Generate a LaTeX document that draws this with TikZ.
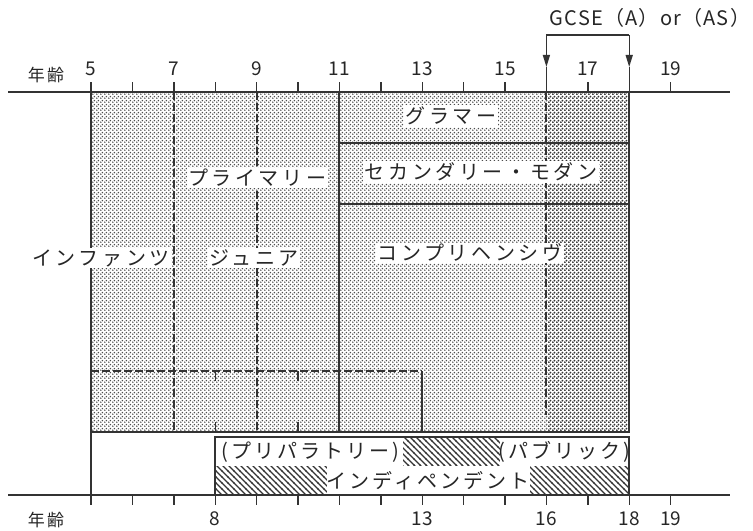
\documentclass[tikz,border=0pt]{standalone}
\usepackage{fontspec}
\setmainfont{Noto Sans CJK JP}
\newfontfamily\jp{Noto Sans CJK JP}[LetterSpace=18]
\newfontfamily\jpb{Noto Sans CJK JP}[LetterSpace=15]
\newfontfamily\jpn{Noto Sans CJK JP}[LetterSpace=14]
\newfontfamily\lat{Noto Sans CJK JP}[LetterSpace=6]
\usetikzlibrary{patterns,arrows.meta}
\pgfdeclarepatternformonly{stip}{\pgfpointorigin}{\pgfpoint{4bp}{4bp}}{\pgfpoint{4bp}{4bp}}{%
  \pgfpathcircle{\pgfpoint{1bp}{1bp}}{1.0bp}%
  \pgfpathcircle{\pgfpoint{3bp}{3bp}}{1.0bp}%
  \pgfusepath{fill}}
\pgfdeclarepatternformonly{stipd}{\pgfpointorigin}{\pgfpoint{4bp}{4bp}}{\pgfpoint{4bp}{4bp}}{%
  \pgfpathcircle{\pgfpoint{1bp}{1bp}}{1.25bp}%
  \pgfpathcircle{\pgfpoint{3bp}{3bp}}{1.25bp}%
  \pgfusepath{fill}}
\pgfdeclarepatternformonly{hatch}{\pgfpoint{-1bp}{-1bp}}{\pgfpoint{7bp}{7bp}}{\pgfpoint{6bp}{6bp}}{%
  \pgfsetlinewidth{1.3bp}%
  \pgfpathmoveto{\pgfpoint{-0.5bp}{6.5bp}}\pgfpathlineto{\pgfpoint{6.5bp}{-0.5bp}}%
  \pgfusepath{stroke}}
\begin{document}
\begin{tikzpicture}[x=1bp,y=-1bp,
  lab/.style={font=\jp\fontsize{20bp}{20bp}\selectfont, fill=white, inner sep=1.5bp, text=black!85},
  blab/.style={font=\jpb\fontsize{20bp}{20bp}\selectfont, inner sep=0pt, text=black!85},
  num/.style={font=\fontsize{19bp}{19bp}\selectfont, inner sep=0pt, text=black!85},
  gc/.style={font=\lat\fontsize{20bp}{20bp}\selectfont, inner sep=0pt, text=black!85},
  age/.style={font=\jpn\fontsize{17bp}{17bp}\selectfont, inner sep=0pt, text=black!85},
  ln/.style={line width=2bp, black!80},
  thin/.style={line width=1.4bp, black!80},
  dsh/.style={line width=1.9bp, dash pattern=on 8bp off 3bp, black!80}]
\useasboundingbox (0,0) rectangle (753,531);
% fills
\fill[pattern=stip, pattern color=black!70] (91,92) rectangle (546.4,432);
\fill[pattern=stipd, pattern color=black!80] (546.4,92) rectangle (629.2,432);
\fill[pattern=hatch, pattern color=black!80] (215.2,437) rectangle (629.2,495);
\fill[white] (216,438) rectangle (403,466);
\fill[white] (500,438) rectangle (628,466);
\fill[white] (327,466) rectangle (530,494);
% axes
\draw[ln] (8,92) -- (730,92);
\draw[ln] (8,495) -- (730,495);
\foreach \a in {5,...,19} {
  \draw[thin] ({91+(\a-5)*41.4},92) -- ++(0,-10);
  \draw[thin] ({91+(\a-5)*41.4},495) -- ++(0,10);
}
% main box
\draw[ln] (91,92) rectangle (629.2,432);
\draw[ln] (91,432) -- (91,495);
\draw[ln] (339.4,92) -- (339.4,432);
\draw[ln] (339.4,143) -- (629.2,143);
\draw[ln] (339.4,204) -- (629.2,204);
\draw[dsh] (173.8,92) -- (173.8,432);
\draw[dsh] (256.6,92) -- (256.6,432);
\draw[dsh] (546.4,92) -- (546.4,415);
\draw[dsh] (91,371) -- (422.2,371);
\draw[ln] (422.2,371) -- (422.2,432);
\foreach \x in {215.2,298} {
  \draw[thin] (\x,371) -- ++(0,10);
  \draw[thin] (\x,432) -- ++(0,-10);
}
% bottom box
\draw[ln] (215.2,437) rectangle (629.2,495);
% GCSE bracket
\coordinate (g1) at (546.4,35);
\coordinate (g2) at (629.2,35);
\coordinate (a1) at (546.4,67);
\coordinate (a2) at (629.2,67);
\coordinate (b1) at (546.4,92);
\coordinate (b2) at (629.2,92);
\draw[thin] (g1) -- (g2);
\draw[thin, -{Triangle[length=12bp,width=7bp]}] (g1) -- (a1);
\draw[thin, -{Triangle[length=12bp,width=7bp]}] (g2) -- (a2);
\draw[thin] (a1) -- (b1);
\draw[thin] (a2) -- (b2);
\node[gc] (gcse) at (650,18) {GCSE（A）or（AS）};
% axis labels
\node[age] (agetop) at (46,75) {年齢};
\node[age] (agebot) at (46,520) {年齢};
\foreach \a/\n in {5/t5,7/t7,9/t9,11/t11,13/t13,15/t15,17/t17,19/t19}
  \node[num] (\n) at ({91+(\a-5)*41.4},69) {\a};
\foreach \a/\n in {8/b8,13/b13,16/b16,18/b18,19/b19}
  \node[num] (\n) at ({91+(\a-5)*41.4},519) {\a};
% labels
\node[lab] (gram) at (451,116) {グラマー};
\node[lab] (secm) at (481,172) {セカンダリー・モダン};
\node[lab] (comp) at (470,253) {コンプリヘンシヴ};
\node[lab] (prim) at (257,178) {プライマリー};
\node[lab] (inf) at (101,258) {インファンツ};
\node[lab] (jun) at (254,258) {ジュニア};
\node[blab] (prep) at (310,452) {(プリパラトリー)};
\node[blab] (pub) at (564,452) {(パブリック)};
\node[blab] (indep) at (428,481) {インディペンデント};
\end{tikzpicture}
\end{document}
